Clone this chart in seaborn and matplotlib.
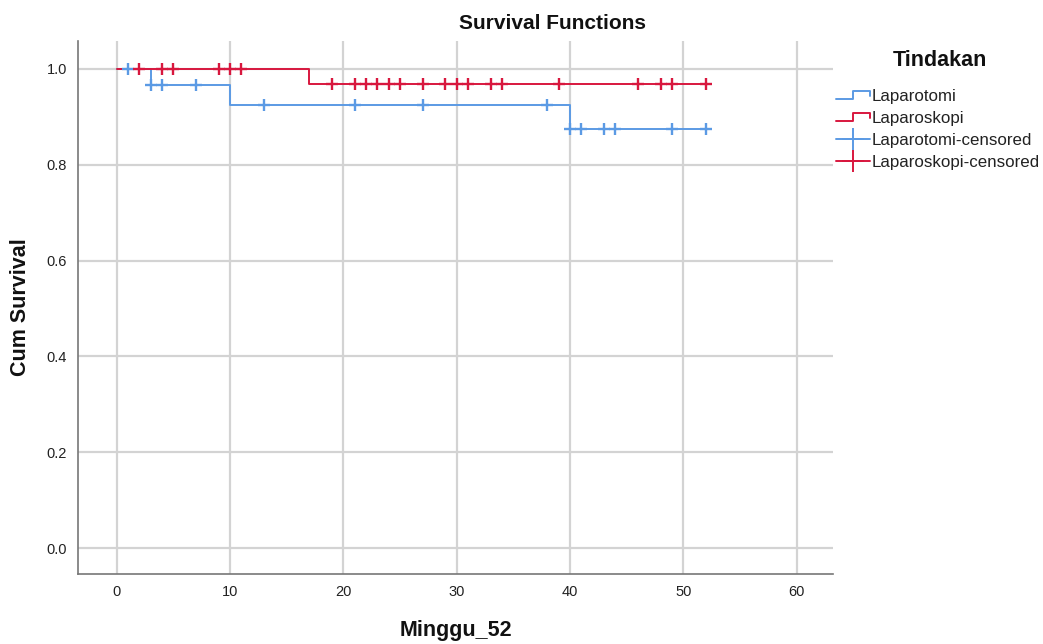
import numpy as np
import pandas as pd
import matplotlib
matplotlib.use("Agg")
import matplotlib.pyplot as plt
import seaborn as sns
from matplotlib.legend_handler import HandlerLine2D
from matplotlib.lines import Line2D

# ---- data ----
groups = ["Laparotomi", "Laparoskopi"]
lapt_times = [0, 3, 10, 40, 52]
lapt_surv = [1.0, 0.966, 0.925, 0.875, 0.875]
lapk_times = [0, 17, 52]
lapk_surv = [1.0, 0.968, 0.968]
lapt_censored = [1, 3, 4, 7, 13, 21, 27, 38, 40, 41, 43, 44, 49, 52]
lapk_censored = [2, 4, 5, 9, 10, 11, 19, 21, 22, 23, 24, 25, 27, 29, 30, 31, 33, 34,
                 39, 46, 48, 49, 52]
x_ticks = [0, 10, 20, 30, 40, 50, 60]
y_ticks = [0.0, 0.2, 0.4, 0.6, 0.8, 1.0]

colors = {"Laparotomi": "#5b9ae4", "Laparoskopi": "#d8173e"}


def surv_at(times, surv, t):
    idx = np.searchsorted(times, t, side="right") - 1
    return surv[idx]


steps = pd.concat([
    pd.DataFrame({"t": lapt_times, "s": lapt_surv, "g": "Laparotomi"}),
    pd.DataFrame({"t": lapk_times, "s": lapk_surv, "g": "Laparoskopi"}),
])
cens = pd.concat([
    pd.DataFrame({"t": lapt_censored,
                  "s": [surv_at(lapt_times, lapt_surv, t) for t in lapt_censored],
                  "g": "Laparotomi"}),
    pd.DataFrame({"t": lapk_censored,
                  "s": [surv_at(lapk_times, lapk_surv, t) for t in lapk_censored],
                  "g": "Laparoskopi"}),
])

sns.set_theme(style="white")
plt.rcParams["font.family"] = ["Liberation Sans", "DejaVu Sans"]

fig = plt.figure(figsize=(10.43, 6.44), dpi=100)
ax = fig.add_axes([0.0748, 0.1087, 0.7239, 0.8276])

for g in groups:
    sub = steps[steps.g == g]
    sns.lineplot(data=sub, x="t", y="s", ax=ax, color=colors[g], estimator=None,
                 drawstyle="steps-post", linewidth=1.4, legend=False, zorder=3)
for g in groups:
    sub = cens[cens.g == g]
    sns.scatterplot(data=sub, x="t", y="s", ax=ax, color=colors[g], marker="+",
                    s=64, linewidth=1.7, legend=False, zorder=4)

ax.set_xlim(-3.4, 63.2)
ax.set_ylim(-0.054, 1.058)
ax.set_xticks(x_ticks)
ax.set_yticks(y_ticks)
ax.set_yticklabels([f"{v:.1f}" for v in y_ticks])
ax.grid(True, color="#d3d3d3", linewidth=1.6)
ax.set_axisbelow(True)
for sp in ["top", "right"]:
    ax.spines[sp].set_visible(False)
for sp in ["left", "bottom"]:
    ax.spines[sp].set_color("#777777")
    ax.spines[sp].set_linewidth(1.2)
ax.tick_params(axis="both", length=0, labelsize=10.5, labelcolor="#222222", pad=8)

fig.text(0.530, 0.963, "Survival Functions", fontsize=15, fontweight="bold",
         ha="center", va="center", color="#111111")
ax.set_xlabel("Minggu_52", fontsize=15.5, fontweight="bold", labelpad=15, color="#111111")
ax.set_ylabel("Cum Survival", fontsize=15.5, fontweight="bold", labelpad=11, color="#111111")


class StepHandler(HandlerLine2D):
    def create_artists(self, legend, orig_handle, xdescent, ydescent, width, height,
                       fontsize, trans):
        x0, x1 = -xdescent, -xdescent + width
        y0 = -ydescent + height * 0.15
        y1 = -ydescent + height * 0.85
        xm = x0 + width * 0.5
        xs = [x0, xm, xm, x1, x1]
        ys = [y0, y0, y1, y1, y0 + height * 0.3]
        ln = Line2D(xs, ys, color=orig_handle.get_color(), linewidth=1.4)
        ln.set_transform(trans)
        return [ln]


h1 = Line2D([], [], color=colors["Laparotomi"])
h2 = Line2D([], [], color=colors["Laparoskopi"])
h3 = Line2D([], [], color=colors["Laparotomi"], marker="+", markersize=16,
            markeredgewidth=1.4, linewidth=1.4)
h4 = Line2D([], [], color=colors["Laparoskopi"], marker="+", markersize=16,
            markeredgewidth=1.4, linewidth=1.4)
leg = fig.legend([h1, h2, h3, h4],
                 ["Laparotomi", "Laparoskopi", "Laparotomi-censored", "Laparoskopi-censored"],
                 handler_map={h1: StepHandler(), h2: StepHandler()},
                 loc="upper left", bbox_to_anchor=(0.8015, 0.862), frameon=False,
                 fontsize=12.2, handlelength=2.0, handletextpad=0.12,
                 labelspacing=0.42, borderaxespad=0, borderpad=0)
for t in leg.get_texts():
    t.set_color("#222222")
fig.text(0.901, 1 - 61 / 644, "Tindakan", fontsize=15.5, fontweight="bold",
         ha="center", va="center", color="#111111")

fig.savefig("out.png", dpi=100, facecolor="white")
